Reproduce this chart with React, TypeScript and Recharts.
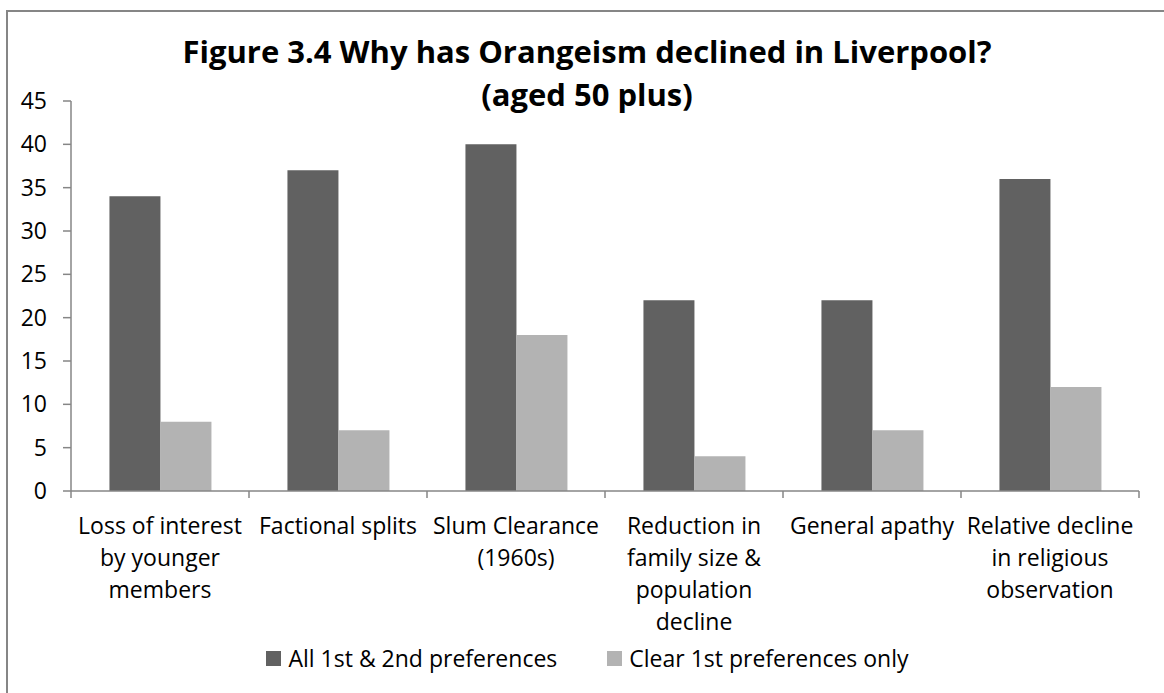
import { BarChart, Bar, XAxis, YAxis, Legend } from "recharts";

const categories = [
  "Loss of interest\nby younger\nmembers",
  "Factional splits",
  "Slum Clearance\n(1960s)",
  "Reduction in\nfamily size &\npopulation\ndecline",
  "General apathy",
  "Relative decline\nin religious\nobservation",
];
const allPrefs = [34, 37, 40, 22, 22, 36];
const firstPrefs = [8, 7, 18, 4, 7, 12];
const yTicks = [0, 5, 10, 15, 20, 25, 30, 35, 40, 45];

const series = [
  { key: "all", label: "All 1st & 2nd preferences", color: "#616161" },
  { key: "first", label: "Clear 1st preferences only", color: "#b3b3b3" },
];

const data = categories.map((c, i) => ({ cat: c, all: allPrefs[i], first: firstPrefs[i] }));

const FONT = "'Open Sans', sans-serif";
const AXIS = "#868686";
const FS = 23;

function CatTick(props: any) {
  const { x, y, payload, index } = props;
  const half = payload.offset || 89;
  const lines = String(payload.value).split("\n");
  return (
    <g>
      <line x1={x - half} x2={x - half} y1={y} y2={y + 7} stroke={AXIS} strokeWidth={1.5} />
      {index === categories.length - 1 && (
        <line x1={x + half} x2={x + half} y1={y} y2={y + 7} stroke={AXIS} strokeWidth={1.5} />
      )}
      <text x={x} y={y + 43} textAnchor="middle" fontFamily={FONT} fontSize={FS} fill="#000">
        {lines.map((l, i) => (
          <tspan key={i} x={x} dy={i === 0 ? 0 : 32}>{l}</tspan>
        ))}
      </text>
    </g>
  );
}

function LegendBox() {
  return (
    <div style={{ display: "flex", justifyContent: "center", alignItems: "center", height: 50, gap: 50, paddingLeft: 36, fontFamily: FONT, fontSize: FS, color: "#000" }}>
      {series.map(s => (
        <span key={s.key} style={{ display: "inline-flex", alignItems: "center", gap: 7 }}>
          <span style={{ width: 15, height: 15, background: s.color, display: "inline-block" }} />
          {s.label}
        </span>
      ))}
    </div>
  );
}

export default function App() {
  return (
    <div style={{ position: "absolute", left: 0, top: 0, width: 1164, height: 693, overflow: "hidden", background: "white" }}>
      <div style={{ position: "absolute", left: 6, top: 10, width: 1200, height: 720, border: `2px solid ${AXIS}` }} />
      <div style={{ position: "absolute", left: 0, top: 30, width: 1174, textAlign: "center", fontFamily: FONT, fontWeight: 700, fontSize: 31, lineHeight: "43px", color: "#000" }}>
        Figure 3.4 Why has Orangeism declined in Liverpool?<br />(aged 50 plus)
      </div>
      <div style={{ position: "absolute", left: 0, top: 0 }}>
        <BarChart width={1164} height={693} data={data} margin={{ top: 101, right: 25, bottom: 10, left: 0 }}
          barCategoryGap="21.6%" barGap={0}>
          <XAxis dataKey="cat" interval={0} tickSize={0} tickMargin={0} height={142}
            axisLine={{ stroke: AXIS, strokeWidth: 1.5 }} tick={<CatTick />} />
          <YAxis width={71} domain={[0, 45]} ticks={yTicks} interval={0} tickSize={8} tickMargin={16}
            axisLine={{ stroke: AXIS, strokeWidth: 1.5 }} tickLine={{ stroke: AXIS, strokeWidth: 1.5 }}
            tick={{ fontFamily: FONT, fontSize: FS, fill: "#000" }} />
          <Legend verticalAlign="bottom" height={50} content={<LegendBox />} />
          {series.map(s => (
            <Bar key={s.key} dataKey={s.key} name={s.label} fill={s.color} isAnimationActive={false} />
          ))}
        </BarChart>
      </div>
    </div>
  );
}
